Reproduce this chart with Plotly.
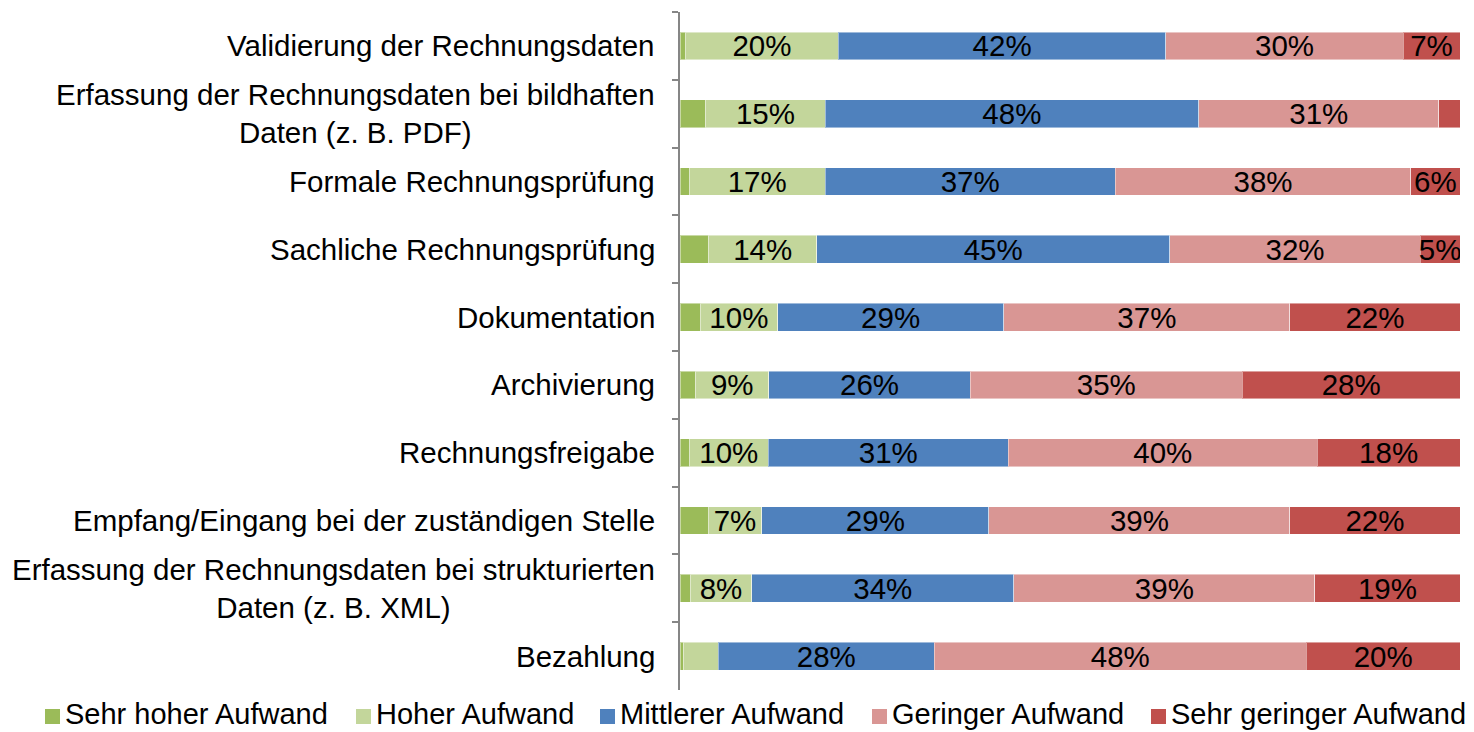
import plotly.graph_objects as go

categories = [
    "Validierung der Rechnungsdaten",
    "Erfassung der Rechnungsdaten bei bildhaften<br>Daten (z. B. PDF)",
    "Formale Rechnungsprüfung",
    "Sachliche Rechnungsprüfung",
    "Dokumentation",
    "Archivierung",
    "Rechnungsfreigabe",
    "Empfang/Eingang bei der zuständigen Stelle",
    "Erfassung der Rechnungsdaten bei strukturierten<br>Daten (z. B. XML)",
    "Bezahlung",
]

sehr_hoher = [0.7, 3.3, 1.2, 3.7, 2.6, 2.0, 1.2, 3.6, 1.3, 0.5]
hoher = [19.6, 15.3, 17.4, 13.8, 9.9, 9.4, 10.1, 6.9, 7.9, 4.4]
mittlerer = [42.0, 47.9, 37.2, 45.3, 29.0, 25.8, 30.8, 29.1, 33.6, 27.7]
geringer = [30.4, 30.8, 37.9, 32.1, 36.7, 34.9, 39.6, 38.6, 38.6, 47.7]
sehr_geringer = [7.3, 2.7, 6.3, 5.1, 21.8, 27.9, 18.3, 21.8, 18.6, 19.7]

series_names = ["Sehr hoher Aufwand", "Hoher Aufwand", "Mittlerer Aufwand",
                "Geringer Aufwand", "Sehr geringer Aufwand"]
series_values = [sehr_hoher, hoher, mittlerer, geringer, sehr_geringer]
series_colors = ["#9BBB59", "#C3D69B", "#4F81BD", "#D99694", "#C0504D"]

FONT = "Liberation Sans, Arial, sans-serif"
FS = 29.5

# page-pixel geometry (browser body has an 8px margin)
PLOT_L, PLOT_R, PLOT_T, PLOT_B = 680, 1460, 12, 690

def px_x(px):
    return (px - PLOT_L) / (PLOT_R - PLOT_L)

def px_y(py):
    return (PLOT_B - py) / (PLOT_B - PLOT_T)

fig = go.Figure()
for name, vals, color in zip(series_names, series_values, series_colors):
    texts = [f"{round(v)}%" if v >= 5 else "" for v in vals]
    fig.add_trace(go.Bar(
        name=name, y=categories, x=vals, orientation="h",
        marker=dict(color=color, line=dict(color="rgba(255,255,255,0.45)", width=1)),
        text=texts, texttemplate="%{text}", textposition="inside",
        insidetextanchor="middle", textangle=0, constraintext="none",
        textfont=dict(family=FONT, size=FS, color="black"),
        hoverinfo="x+y+name", showlegend=False,
    ))

annotations = []
# category labels (centre-aligned lines, right-anchored next to the axis)
for cat in categories:
    annotations.append(dict(text=cat, xref="paper", yref="y", x=px_x(656), y=cat,
                            xanchor="right", yanchor="middle", align="center",
                            showarrow=False, borderpad=0,
                            font=dict(family=FONT, size=FS, color="black")))

# manual legend (single row, like the reference)
legend_left_px = [45, 356, 600, 872, 1151]
shapes = []
for name, color, lx in zip(series_names, series_colors, legend_left_px):
    shapes.append(dict(type="rect", xref="paper", yref="paper",
                       x0=px_x(lx), x1=px_x(lx + 15), y0=px_y(724), y1=px_y(709),
                       fillcolor=color, line=dict(width=0)))
    annotations.append(dict(text=name, xref="paper", yref="paper",
                            x=px_x(lx + 19), y=px_y(714), xanchor="left", yanchor="middle",
                            showarrow=False, borderpad=0,
                            font=dict(family=FONT, size=29, color="black")))

fig.update_layout(
    barmode="stack",
    bargap=0.59,
    width=1466, height=724,
    margin=dict(l=672, r=14, t=4, b=42),
    paper_bgcolor="white", plot_bgcolor="white",
    font=dict(family=FONT, size=FS, color="black"),
    showlegend=False,
    shapes=shapes,
    annotations=annotations,
)
fig.update_xaxes(range=[0, 100], visible=False, showgrid=False, zeroline=False)
fig.update_yaxes(autorange="reversed", showline=True, linecolor="#868686", linewidth=1.5,
                 ticks="outside", tickson="boundaries", ticklen=6, tickcolor="#868686",
                 tickwidth=1.5, showgrid=False, showticklabels=False)

fig.write_html("out.html")
